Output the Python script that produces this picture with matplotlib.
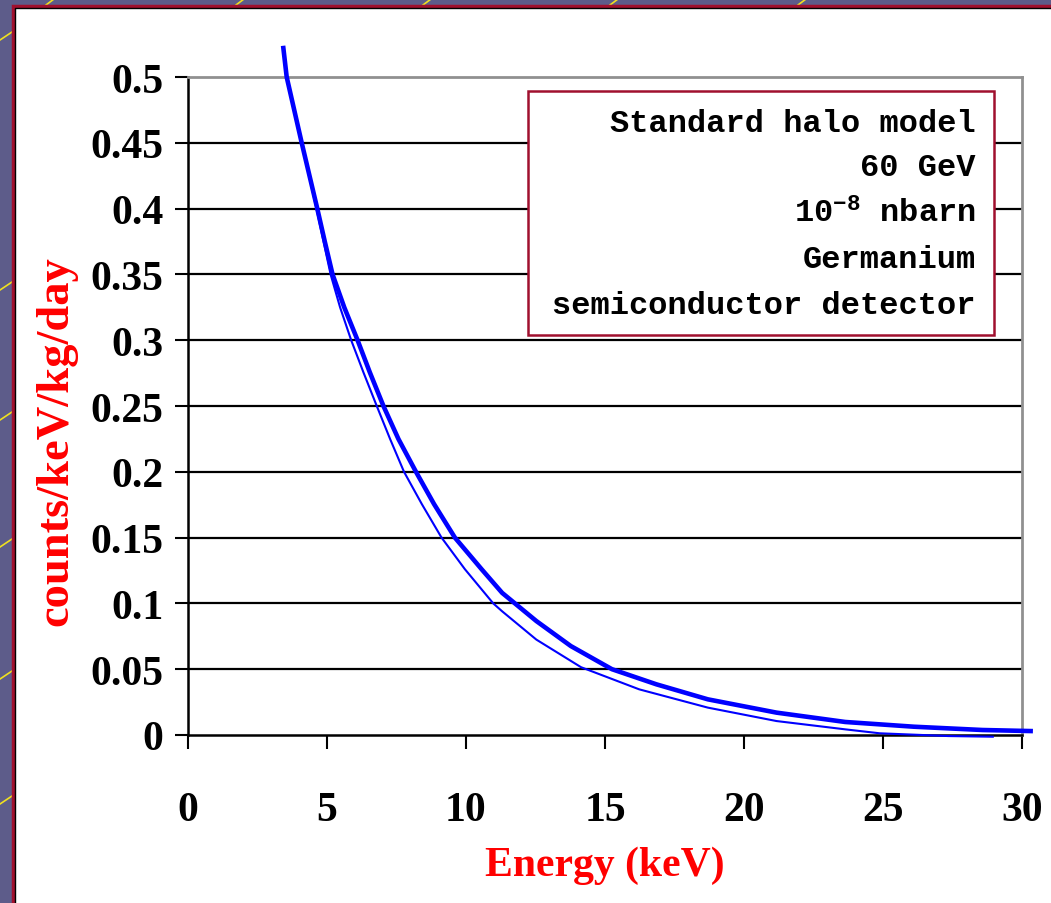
import numpy as np
import matplotlib
matplotlib.use("Agg")
import matplotlib.pyplot as plt
from matplotlib.patches import Rectangle
from matplotlib.lines import Line2D

# Recoil spectrum (energy in keV, rate in counts/keV/kg/day)
energy_thick = [3.43, 3.55, 4.09, 4.65, 4.92, 5.20, 5.62, 6.10, 6.54, 7.03, 7.57,
                8.20, 8.85, 9.60, 10.56, 11.30, 12.53, 13.77, 15.25, 16.85, 18.70,
                21.17, 23.64, 26.11, 28.58, 30.31]
rate_thick = [0.522, 0.500, 0.450, 0.400, 0.375, 0.350, 0.325, 0.300, 0.2756, 0.250, 0.2249,
              0.200, 0.1755, 0.150, 0.126, 0.108, 0.0866, 0.0676, 0.050, 0.0385, 0.0271,
              0.0170, 0.0099, 0.0063, 0.0038, 0.003]

energy_thin = [3.43, 3.55, 4.09, 4.62, 5.13, 5.47, 5.87, 6.31, 6.79, 7.27, 7.77,
               8.41, 9.12, 9.96, 10.98, 11.30, 12.53, 14.14, 16.23, 18.70, 21.17,
               23.64, 24.88, 27.35, 28.95]
rate_thin = [0.522, 0.500, 0.450, 0.400, 0.350, 0.325, 0.300, 0.2756, 0.250, 0.2249, 0.200,
             0.1755, 0.150, 0.126, 0.100, 0.094, 0.0725, 0.0515, 0.0347, 0.0208, 0.0106,
             0.0043, 0.0013, -0.0008, -0.0013]

x_ticks = [0, 5, 10, 15, 20, 25, 30]
y_ticks = [0, 0.05, 0.1, 0.15, 0.2, 0.25, 0.3, 0.35, 0.4, 0.45, 0.5]
y_ticklabels = ['0', '0.05', '0.1', '0.15', '0.2', '0.25', '0.3', '0.35', '0.4', '0.45', '0.5']

info_lines = ['Standard halo model', '60 GeV', r'$\mathbf{10^{-8}}$ nbarn',
              'Germanium', 'semiconductor detector']

plt.rcParams['mathtext.fontset'] = 'custom'
plt.rcParams['mathtext.bf'] = 'Liberation Mono:bold'
plt.rcParams['mathtext.rm'] = 'Liberation Mono:bold'

W, H = 1051, 904
fig = plt.figure(figsize=(W / 100, H / 100), dpi=100, facecolor='#5d5c8a')

# white slide panel with crimson edge (behind the axes)
fig.patches.append(Rectangle((13 / W, -0.01), 1.0, 1 - 7 / H + 0.01, transform=fig.transFigure,
                             facecolor='white', edgecolor='#a0102e', lw=2.5, zorder=-2))
fig.lines.append(Line2D([15 / W, 15 / W, 1.0], [0, 1 - 9 / H, 1 - 9 / H], transform=fig.transFigure,
                        color='black', lw=1.0, zorder=-1))
# yellow streaks of the background
for xp in [50, 240, 427, 614, 802]:
    fig.lines.append(Line2D([(xp - 4) / W, (xp + 4) / W], [1 - 6 / H, 1.0], transform=fig.transFigure,
                            color='#f0e020', lw=1.2, zorder=-3))
for yp in [33, 283, 413, 540, 672, 797]:
    fig.lines.append(Line2D([0, 12 / W], [1 - (yp + 8) / H, 1 - yp / H], transform=fig.transFigure,
                            color='#f0e020', lw=1.2, zorder=-3))

ax = fig.add_axes([188 / W, 1 - 736 / H, (1022 - 188) / W, (736 - 78) / H])
ax.set_facecolor('white')

for y in y_ticks[1:-1]:
    ax.axhline(y, color='black', lw=1.6, zorder=1)

ax.plot(energy_thin, rate_thin, color='#0000ff', lw=1.5, clip_on=False, zorder=3)
ax.plot(energy_thick, rate_thick, color='#0000ff', lw=3.3, clip_on=False, zorder=4)

ax.set_xlim(0, 30)
ax.set_ylim(0, 0.5)
ax.set_xticks(x_ticks)
ax.set_yticks(y_ticks)
ax.set_yticklabels(y_ticklabels)

for side in ['top', 'right']:
    ax.spines[side].set_color('#909090')
    ax.spines[side].set_linewidth(2)
for side in ['left', 'bottom']:
    ax.spines[side].set_color('black')
    ax.spines[side].set_linewidth(1.8)

ax.tick_params(axis='y', direction='out', length=9.5, width=1.5, pad=8)
ax.tick_params(axis='x', direction='out', length=10, width=1.5, pad=30)
for lab in ax.get_xticklabels() + ax.get_yticklabels():
    lab.set_fontfamily('Liberation Serif')
    lab.set_fontweight('bold')
    lab.set_fontsize(30)

ax.set_xlabel('Energy (keV)', fontfamily='Liberation Serif', fontweight='bold',
              fontsize=30, color='#ff0000', labelpad=12)
ax.set_ylabel('counts/keV/kg/day', fontfamily='Liberation Serif', fontweight='bold',
              fontsize=33.5, color='#ff0000')
ax.yaxis.set_label_coords(-0.133, 0.448)

# info box
box_l, box_r, box_t, box_b = 528, 994, 92, 336
fig.patches.append(Rectangle((box_l / W, 1 - box_b / H), (box_r - box_l) / W, (box_b - box_t) / H,
                             transform=fig.transFigure, facecolor='white',
                             edgecolor='#a0102e', lw=1.8, zorder=5))
line_y = [124, 168, 214, 260, 306]
for txt, yp in zip(info_lines, line_y):
    fig.text(976 / W, 1 - yp / H, txt, ha='right', va='center', fontfamily='Liberation Mono',
             fontweight='bold', fontsize=23, color='black', zorder=6)

fig.savefig('out.png', dpi=100, facecolor=fig.get_facecolor())
